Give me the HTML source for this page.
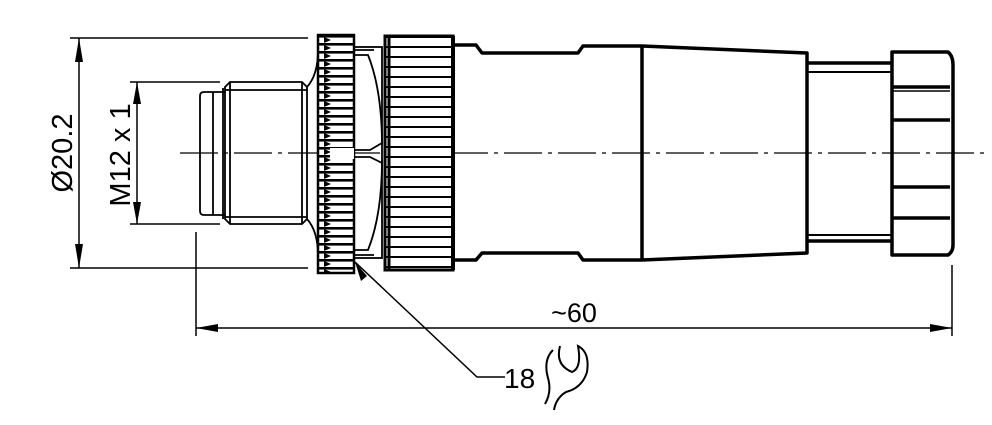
<!DOCTYPE html>
<html><head><style>html,body{margin:0;padding:0;background:#fff}svg{display:block}</style></head><body>
<svg width="992" height="425" viewBox="0 0 992 425" xmlns="http://www.w3.org/2000/svg" font-family="Liberation Sans, sans-serif">
<defs>
<pattern id="k1" x="0" y="35" width="36" height="8" patternUnits="userSpaceOnUse"><rect width="36" height="8" fill="#fff"/><rect y="0" width="36" height="2.6" fill="#000"/><path d="M0 2 L7 5 L0 8" fill="#000"/></pattern>
<pattern id="k2" x="0" y="36" width="68" height="10" patternUnits="userSpaceOnUse"><rect width="68" height="10" fill="#fff"/><rect y="0" width="68" height="2" fill="#000"/></pattern>
</defs>
<g stroke="#000" fill="none" stroke-width="1.5">
<line x1="70" y1="38" x2="308" y2="38"/>
<line x1="70" y1="268" x2="308" y2="268"/>
<line x1="79" y1="38" x2="79" y2="268"/>
<line x1="130" y1="82" x2="220" y2="82"/>
<line x1="130" y1="224" x2="220" y2="224"/>
<line x1="137" y1="82" x2="137" y2="224"/>
<line x1="196" y1="232" x2="196" y2="336"/>
<line x1="952" y1="265" x2="952" y2="336"/>
<line x1="196" y1="328" x2="952" y2="328"/>
<polyline points="355,262 477,377 505,377"/>
</g>
<g fill="#000">
<polygon points="79,38 75,62 83,62"/><polygon points="79,268 75,244 83,244"/>
<polygon points="137,82 133,104 141,104"/><polygon points="137,224 133,202 141,202"/>
<polygon points="196,328 218,324 218,332"/><polygon points="952,328 930,324 930,332"/>
<polygon points="355,262 361,281 367,276"/>
</g>
<line x1="180" y1="153" x2="985" y2="153" stroke="#000" stroke-width="1.3" stroke-dasharray="38,6,4,6"/>
<g stroke="#000" fill="none" stroke-width="1.8">
<path d="M225 92 L204 92 Q200 92 200 96 L200 211 Q200 215 204 215 L225 215"/>
<line x1="213" y1="92" x2="213" y2="215"/>
<line x1="223" y1="88" x2="223" y2="219"/>
<path d="M230 82 L302 82 L307 87 L307 219 L302 224 L230 224 L225 219 L225 87 Z"/>
<line x1="225" y1="90" x2="307" y2="90"/><line x1="225" y1="217" x2="307" y2="217"/>
<line x1="230" y1="82" x2="230" y2="224"/><line x1="302" y1="82" x2="302" y2="224"/>
<path d="M307 87 Q318 75 318 50"/><path d="M307 219 Q318 231 318 256"/>
<rect x="354" y="47" width="28" height="211"/>
<line x1="354" y1="50" x2="374" y2="50"/><line x1="354" y1="255" x2="374" y2="255"/>
<path d="M354 55 L368 55 Q382 90 382 145"/><path d="M354 250 L368 250 Q382 215 382 160"/>
<path d="M330 150 L370 150 L382 143"/><path d="M330 157 L370 157 L382 163"/>
</g>
<rect x="318" y="35" width="36" height="238" fill="url(#k1)" stroke="#000" stroke-width="2.5"/>
<rect x="330" y="148" width="24" height="11" fill="#fff"/>
<rect x="385" y="36" width="68" height="234" fill="url(#k2)" stroke="#000" stroke-width="3"/>
<line x1="389" y1="36" x2="389" y2="270" stroke="#000" stroke-width="3"/>
<line x1="453" y1="36" x2="453" y2="270" stroke="#000" stroke-width="4"/>
<g stroke="#000" fill="none" stroke-width="3.5" stroke-linejoin="round">
<path d="M453 45 L476 45 L482 53 L578 53 L583 46 L642 46 L807 53 L807 253 L642 260 L583 260 L578 253 L482 253 L476 260 L453 260"/>
<line x1="642" y1="46" x2="642" y2="260"/>
<path d="M807 63 L892 63 M807 241 L892 241" />
</g>
<g stroke="#000" fill="none" stroke-width="2">
<path d="M807 72 L892 72 M807 235 L892 235"/>
</g>
<g stroke="#000" fill="none" stroke-width="3.5" stroke-linejoin="round">
<path d="M892 52 L948 52 Q953 56 953 65 L953 245 Q953 252 948 255 L892 255 Z"/>
<line x1="892" y1="87" x2="950" y2="87"/><line x1="892" y1="120" x2="950" y2="120"/>
<line x1="892" y1="187" x2="950" y2="187"/><line x1="892" y1="218" x2="950" y2="218"/>
</g>
<line x1="892" y1="91" x2="950" y2="91" stroke="#000" stroke-width="1.5"/>
<text x="0" y="0" font-size="29" text-anchor="middle" transform="translate(72,153) rotate(-90)">Ø20.2</text>
<text x="0" y="0" font-size="29" text-anchor="middle" transform="translate(130,155) rotate(-90)">M12 x 1</text>
<text x="574" y="322" font-size="27" text-anchor="middle">~60</text>
<text x="504" y="388" font-size="28">18</text>
<path d="M553 350 Q543 360 548 378 Q552 392 545 404 M560 346 Q555 365 572 372 Q582 368 578 346 Q590 352 587 372 Q582 388 566 392 Q556 398 554 410" stroke="#000" stroke-width="2" fill="none"/>
</svg>
</body></html>
